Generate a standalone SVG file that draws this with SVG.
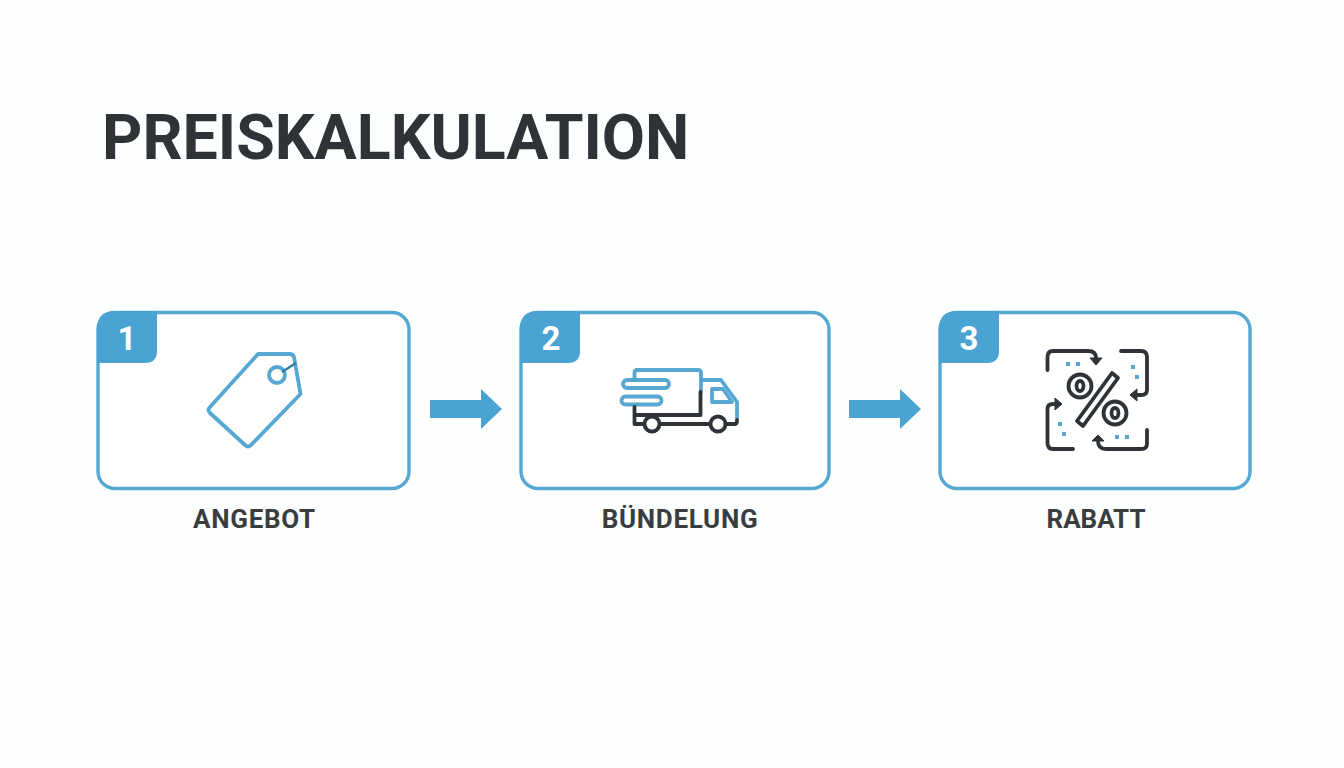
<svg xmlns="http://www.w3.org/2000/svg" width="1344" height="768" viewBox="0 0 1344 768">
<style>
.box{fill:#fff;stroke:#56a8d2;stroke-width:3.400}
.badge{fill:#4ba3d3}
.num{font:700 33px Roboto,"Liberation Sans",sans-serif;fill:#fff;text-anchor:middle}
.lab{font:700 26px Roboto,"Liberation Sans",sans-serif;fill:#3a3d40;text-anchor:middle}
.b{fill:none;stroke:#56a8d2;stroke-width:3.800;stroke-linejoin:round;stroke-linecap:round}
.d{fill:none;stroke:#2f3338;stroke-width:3.800;stroke-linejoin:round;stroke-linecap:round}
.h{fill:#2f3338;stroke:#2f3338;stroke-width:1;stroke-linejoin:round}
.dot{fill:#56a8d2}
.arrow{fill:#4ba3d3}
</style>
<rect width="1344" height="768" fill="#fdfefe"/>
<text id="title" x="102" y="159" font-family="Roboto,'Liberation Sans',sans-serif" font-weight="700" font-size="62.700" fill="#2f3338">PREISKALKULATION</text>
<g id="connectors">
<path class="arrow" d="M430 400H481V389L502 409L481 429V418H430Z"/>
<path class="arrow" d="M849 400H900V389L921 409L900 429V418H849Z"/>
</g>
<g id="node1">
<rect class="box" x="98" y="312.500" width="311" height="176" rx="17"/>
<path class="badge" d="M97 363V329Q97 311 115 311H157V351Q157 363 145 363Z"/>
<text class="num" x="127" y="350">1</text>
<path class="b" d="M258 354H290Q293 354 294 357L300.500 394L251 445Q248 448 245 445L210 413Q207 410 210 407Z"/>
<circle class="b" cx="277" cy="375" r="8"/>
<path d="M282 372L296 363" fill="none" stroke="#2f7fa8" stroke-width="2.500"/>
<text class="lab" x="254.500" y="528" letter-spacing="0.700">ANGEBOT</text>
</g>
<g id="node2">
<rect class="box" x="521" y="312.500" width="308" height="176" rx="17"/>
<path class="badge" d="M520 363V329Q520 311 538 311H580V351Q580 363 568 363Z"/>
<text class="num" x="551" y="350">2</text>
<path class="b" d="M634.500 380V373Q634.500 370 637.500 370H698Q701 370 701 373V392"/>
<path class="b" d="M702 380H721L737 402V418"/>
<path class="b" d="M712 389H723L732 402H712Z"/>
<rect class="b" x="623" y="380" width="46" height="8" rx="4"/>
<rect class="b" x="621.500" y="396.500" width="40" height="8" rx="4"/>
<path class="d" d="M634.500 407V424H643M661 424H709M727 424H735Q737 424 737 420M634.500 415H700.500V392"/>
<circle class="d" cx="652" cy="424" r="7.500" fill="#fff"/>
<circle class="d" cx="718" cy="424" r="7.500" fill="#fff"/>
<text class="lab" x="680" y="528" letter-spacing="0.700">BÜNDELUNG</text>
</g>
<g id="node3">
<rect class="box" x="940" y="312.500" width="310" height="176" rx="17"/>
<path class="badge" d="M939 363V329Q939 311 957 311H999V351Q999 363 987 363Z"/>
<text class="num" x="969" y="350">3</text>
<path class="d" d="M1047.500 370V357Q1047.500 351 1053 351H1088Q1096 351 1096 358"/>
<path class="h" d="M1090 358H1102L1096 365Z"/>
<path class="d" d="M1121 351H1141Q1147 351 1147 357V390Q1147 395 1141 395H1137"/>
<path class="h" d="M1137 389V401L1130 395Z"/>
<path class="d" d="M1147 430V444Q1147 449 1141 449H1106Q1098 449 1098 441"/>
<path class="h" d="M1092 441H1104L1098 435Z"/>
<path class="d" d="M1073 449H1053Q1047.500 449 1047.500 443V409Q1047.500 404 1053 404H1055"/>
<path class="h" d="M1055 398V410L1062 404Z"/>
<circle class="d" cx="1080" cy="386" r="11.500"/>
<ellipse class="d" cx="1080" cy="386" rx="3.500" ry="5"/>
<circle class="d" cx="1115" cy="413" r="11.500"/>
<ellipse class="d" cx="1115" cy="413" rx="3.500" ry="5"/>
<path class="d" d="M1112 373L1118 378L1083 426L1077 421Z"/>
<rect class="dot" x="1066" y="362" width="4" height="4"/>
<rect class="dot" x="1076" y="362" width="4" height="4"/>
<rect class="dot" x="1131" y="365" width="4" height="4"/>
<rect class="dot" x="1135" y="375" width="4" height="4"/>
<rect class="dot" x="1058" y="422" width="4" height="4"/>
<rect class="dot" x="1062" y="432" width="4" height="4"/>
<rect class="dot" x="1115" y="435" width="4" height="4"/>
<rect class="dot" x="1125" y="435" width="4" height="4"/>
<text class="lab" x="1096" y="528">RABATT</text>
</g>
</svg>
